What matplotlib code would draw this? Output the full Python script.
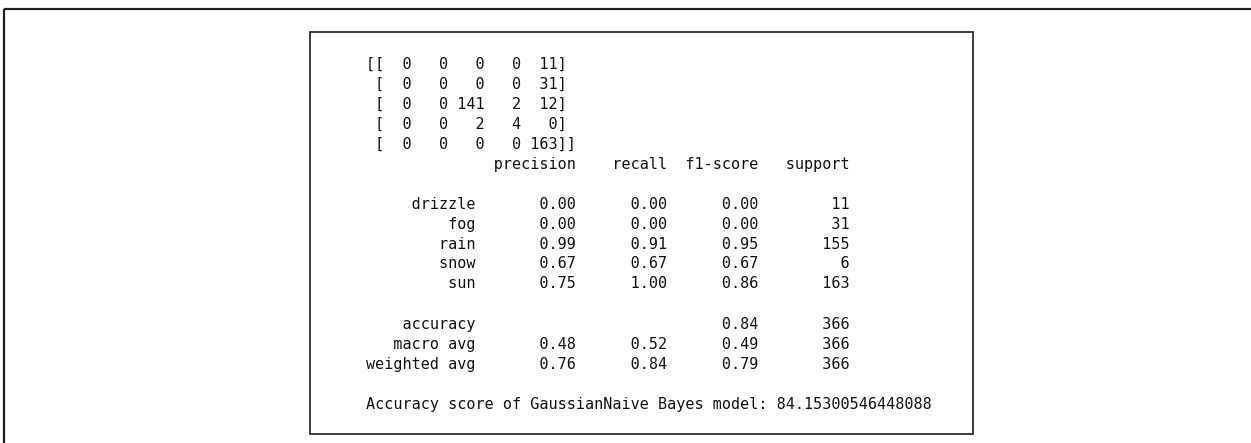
import numpy as np
import matplotlib.pyplot as plt
from matplotlib.patches import Rectangle

# confusion matrix and classification report of the GaussianNB model
classes = ['drizzle', 'fog', 'rain', 'snow', 'sun']
conf_matrix = np.array([[0, 0, 0, 0, 11],
                        [0, 0, 0, 0, 31],
                        [0, 0, 141, 2, 12],
                        [0, 0, 2, 4, 0],
                        [0, 0, 0, 0, 163]])
precision = [0.00, 0.00, 0.99, 0.67, 0.75]
recall = [0.00, 0.00, 0.91, 0.67, 1.00]
f1_score = [0.00, 0.00, 0.95, 0.67, 0.86]
support = [11, 31, 155, 6, 163]
accuracy = 0.84
macro_avg = [0.48, 0.52, 0.49]
weighted_avg = [0.76, 0.84, 0.79]
total_support = 366
accuracy_score = 84.15300546448088


def report_lines():
    'rebuild the printed text, line by line'
    lines = np.array2string(conf_matrix).split('\n')
    w = 12
    lines.append(' ' * w + ' ' + ''.join(' {:>9}'.format(h) for h in
                 ['precision', 'recall', 'f1-score', 'support']))
    lines.append('')
    for c, p, r, f, s in zip(classes, precision, recall, f1_score, support):
        lines.append('{:>{w}s} '.format(c, w=w)
                     + ''.join(' {:>9.2f}'.format(v) for v in (p, r, f))
                     + ' {:>9}'.format(s))
    lines.append('')
    lines.append('{:>{w}s} '.format('accuracy', w=w) + ' ' * 20
                 + ' {:>9.2f}'.format(accuracy) + ' {:>9}'.format(total_support))
    for name, vals in [('macro avg', macro_avg), ('weighted avg', weighted_avg)]:
        lines.append('{:>{w}s} '.format(name, w=w)
                     + ''.join(' {:>9.2f}'.format(v) for v in vals)
                     + ' {:>9}'.format(total_support))
    lines.append('')
    lines.append('Accuracy score of GaussianNaive Bayes model: '
                 + repr(accuracy_score))
    return lines


W, H = 1251, 443
fig = plt.figure(figsize=(W / 100, H / 100), dpi=100)
ax = fig.add_axes([0, 0, 1, 1])
ax.set_xlim(0, W)
ax.set_ylim(H, 0)
ax.axis('off')

# outer frame (only top and left edges are visible)
ax.plot([3.5, W + 5], [9, 9], color='#1e1e1e', lw=1.6, solid_capstyle='butt')
ax.plot([3.5, 3.5], [9, H + 5], color='#1e1e1e', lw=1.6, solid_capstyle='butt')

# inner box round the printed output
ax.add_patch(Rectangle((310, 31.5), 663, 402.5, fill=False,
                       edgecolor='#2e2e2e', lw=1.3))

x0, y0, dy = 366.5, 68.5, 20
for i, line in enumerate(report_lines()):
    ax.text(x0, y0 + i * dy, line, family='DejaVu Sans Mono', fontsize=10.9,
            color='#111111', va='baseline', ha='left')

fig.savefig('out.png', dpi=100)
